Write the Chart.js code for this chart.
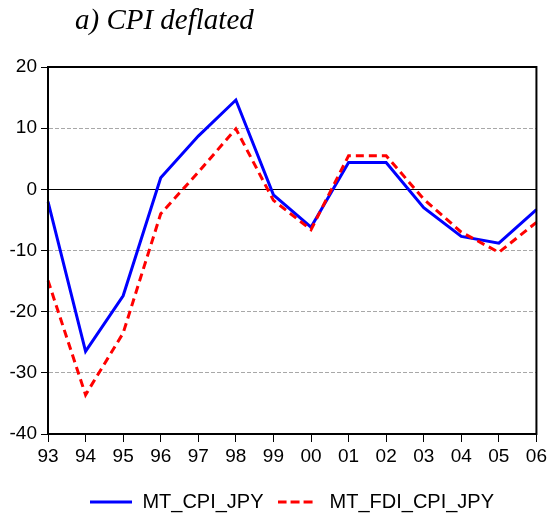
<!DOCTYPE html>
<html>
<head>
<meta charset="utf-8">
<script src="https://cdn.jsdelivr.net/npm/chart.js@4.4.0/dist/chart.umd.min.js"></script>
<style>
  html, body { margin: 0; padding: 0; background: #fff; }
</style>
</head>
<body>
<canvas id="myChart" width="550" height="515"></canvas>
<script>
const years = ['93', '94', '95', '96', '97', '98', '99', '00', '01', '02', '03', '04', '05', '06'];
const mtCpiJpy = [-2.0, -26.5, -17.4, 1.9, 8.7, 14.6, -0.9, -6.2, 4.4, 4.4, -3.0, -7.7, -8.8, -3.3];
const mtFdiCpiJpy = [-14.9, -33.6, -23.5, -4.0, 2.8, 9.9, -1.8, -6.6, 5.5, 5.5, -1.6, -7.0, -10.3, -5.4];
const yMin = -40, yMax = 20, yStep = 10;
const titleText = 'a) CPI deflated';

// small legend swatches (solid / dashed line)
function swatch(color, dash) {
  const c = document.createElement('canvas');
  c.width = 42; c.height = 4;
  const g = c.getContext('2d');
  g.strokeStyle = color;
  g.lineWidth = 3;
  g.setLineDash(dash);
  g.beginPath();
  g.moveTo(0, 2);
  g.lineTo(dash.length ? 35 : 42, 2);
  g.stroke();
  return c;
}

// title + box round the plot area, legend centred under the plot
const extras = {
  id: 'extras',
  afterLayout(chart) {
    const a = chart.chartArea, lg = chart.legend;
    const shift = (a.left + a.right) / 2 - (lg.left + lg.right) / 2;
    lg.left += shift;
    lg.right += shift;
  },
  afterDraw(chart) {
    const ctx = chart.ctx, a = chart.chartArea;
    ctx.save();
    ctx.strokeStyle = '#000';
    ctx.lineWidth = 2;
    ctx.strokeRect(a.left, a.top, a.right - a.left, a.bottom - a.top);
    ctx.fillStyle = '#000';
    ctx.font = 'italic 29px "Liberation Serif"';
    ctx.textBaseline = 'alphabetic';
    ctx.fillText(titleText, 75, 29);
    ctx.restore();
  }
};

var ctx = document.getElementById('myChart').getContext('2d');

new Chart(ctx, {
  type: 'line',
  data: {
    labels: years,
    datasets: [{
      label: 'MT_CPI_JPY',
      data: mtCpiJpy,
      borderColor: '#0000ff',
      backgroundColor: '#0000ff',
      borderWidth: 3,
      pointStyle: swatch('#0000ff', []),
      fill: false,
      order: 1
    }, {
      label: 'MT_FDI_CPI_JPY',
      data: mtFdiCpiJpy,
      borderColor: '#ff0000',
      backgroundColor: '#ff0000',
      borderWidth: 3,
      borderDash: [8, 5],
      pointStyle: swatch('#ff0000', [9, 4]),
      fill: false,
      order: 0
    }]
  },
  options: {
    responsive: false,
    animation: false,
    layout: { padding: { top: 67, right: 13, left: 0, bottom: -7 } },
    elements: { point: { radius: 0 }, line: { tension: 0 } },
    plugins: {
      tooltip: { enabled: false },
      legend: {
        position: 'bottom',
        labels: {
          color: '#000',
          font: { family: 'Liberation Sans', size: 20 },
          usePointStyle: true,
          pointStyleWidth: 42,
          padding: 14,
          sort: (a, b) => a.datasetIndex - b.datasetIndex
        }
      }
    },
    scales: {
      x: {
        offset: false,
        afterFit: s => { s.height = 44; },
        grid: { drawOnChartArea: false, tickLength: 8, tickColor: '#000' },
        border: { color: '#000', width: 2 },
        ticks: {
          color: '#000',
          font: { family: 'Liberation Sans', size: 19 },
          padding: 3,
          maxRotation: 0,
          autoSkip: false
        }
      },
      y: {
        min: yMin,
        max: yMax,
        afterFit: s => { s.width = 48; },
        grid: {
          color: c => (c.tick && c.tick.value === 0) ? '#000' : '#a8a8a8',
          lineWidth: 1,
          tickLength: 7,
          tickColor: '#000',
          tickBorderDash: []
        },
        border: {
          color: '#000',
          width: 2,
          dash: c => (c.tick && c.tick.value === 0) ? [] : [4, 2]
        },
        ticks: {
          stepSize: yStep,
          color: '#000',
          font: { family: 'Liberation Sans', size: 19 },
          padding: 4
        }
      }
    }
  },
  plugins: [extras]
});
</script>
</body>
</html>
